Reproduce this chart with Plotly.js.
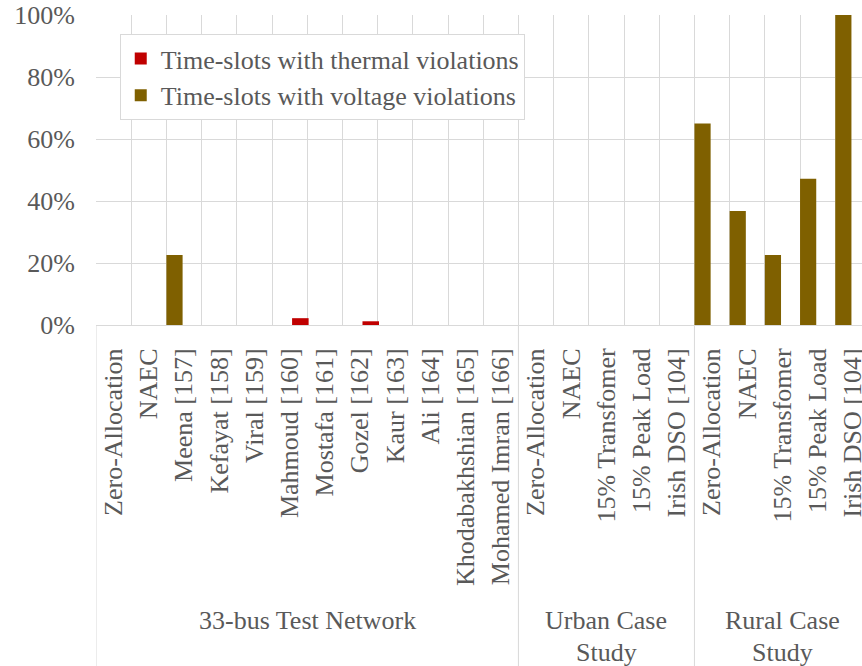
<!DOCTYPE html>
<html>
<head>
<meta charset="utf-8">
<script src="https://cdn.plot.ly/plotly-3.0.1.min.js"></script>
<style>html,body{margin:0;padding:0;background:#fff;}#chart{width:862px;height:666px;}</style>
</head>
<body>
<div id="chart"></div>
<script>
const categories = ["Zero-Allocation","NAEC","Meena [157]","Kefayat [158]","Viral [159]","Mahmoud [160]","Mostafa [161]","Gozel [162]","Kaur [163]","Ali [164]","Khodabakhshian [165]","Mohamed Imran [166]",
  "Zero-Allocation","NAEC","15% Transfomer","15% Peak Load","Irish DSO [104]",
  "Zero-Allocation","NAEC","15% Transfomer","15% Peak Load","Irish DSO [104]"];
const thermal = [0,0,0,0,0,2.2,0,1.2,0,0,0,0, 0,0,0,0,0, 0,0,0,0,0];
const voltage = [0,0,22.6,0,0,0,0,0,0,0,0,0, 0,0,0,0,0, 65,36.8,22.6,47.2,100];
const groupNames = [["33-bus Test Network"], ["Urban Case","Study"], ["Rural Case","Study"]];
const groupStart = [0, 12, 17];
const groupEnd = [11, 16, 21];
const yTickVals = [0,20,40,60,80,100];
const yTickText = ["0%","20%","40%","60%","80%","100%"];

const idx = categories.map((c,i)=>i);
const grey = '#595959';
const gridc = '#d9d9d9';
const font = {family:'"Liberation Serif", "Times New Roman", serif', size:26, color:grey};

const traces = [
  {type:'bar', name:'Time-slots with voltage violations', x:idx, y:voltage,
   marker:{color:'#7F6000'}, width:0.46, offset:-0.5, legendrank:2, hoverinfo:'skip'},
  {type:'bar', name:'Time-slots with thermal violations', x:idx, y:thermal,
   marker:{color:'#C00000'}, width:0.47, offset:0.07, legendrank:1, hoverinfo:'skip'}
];

const plotTop = 15, plotBottom = 325, plotH = plotBottom - plotTop;
const py = p => (plotBottom - p) / plotH;

const shapes = [];
const bounds = [-0.5].concat(groupEnd.map(e=>e+0.5));
bounds.forEach(b=>{
  shapes.push({type:'line', xref:'x', yref:'paper', x0:b, x1:b, y0:0, y1:-1.2,
    line:{color:gridc, width:1}, layer:'below'});
});

const annotations = [];
const lineCenters = [620, 652];
groupNames.forEach((lines, gi)=>{
  lines.forEach((t, li)=>{
    annotations.push({xref:'x', yref:'paper', x:(groupStart[gi]+groupEnd[gi])/2,
      y:py(lineCenters[li]), yanchor:'middle', xanchor:'center',
      text:t, showarrow:false, font:font});
  });
});

const layout = {
  width:862, height:666,
  margin:{l:96, r:0, t:plotTop, b:666-plotBottom, pad:0},
  paper_bgcolor:'#fff', plot_bgcolor:'#fff',
  font:font,
  barmode:'overlay',
  showlegend:true,
  legend:{x:0.031, y:py(34), xanchor:'left', yanchor:'top', bgcolor:'#fff',
    bordercolor:gridc, borderwidth:1, font:font, traceorder:'normal', itemwidth:30},
  xaxis:{range:[-0.5, 21.26], tickmode:'array', tickvals:idx, ticktext:categories,
    tickangle:-90, showgrid:false, zeroline:false, showline:true, linecolor:gridc, linewidth:1,
    ticks:'', ticklabelstandoff:12, ticklabeloverflow:'allow', tickfont:font, fixedrange:true,
    minor:{tick0:0.5, dtick:1, showgrid:true, gridcolor:gridc, gridwidth:1, ticks:''}},
  yaxis:{range:[0,100], tickmode:'array', tickvals:yTickVals, ticktext:yTickText,
    showgrid:true, gridcolor:gridc, gridwidth:1, zeroline:false, showline:false,
    ticks:'', ticklabelstandoff:20, ticklabeloverflow:'allow', tickfont:font, fixedrange:true},
  shapes:shapes,
  annotations:annotations
};

Plotly.newPlot('chart', traces, layout, {displayModeBar:false, staticPlot:true});
</script>
</body>
</html>
